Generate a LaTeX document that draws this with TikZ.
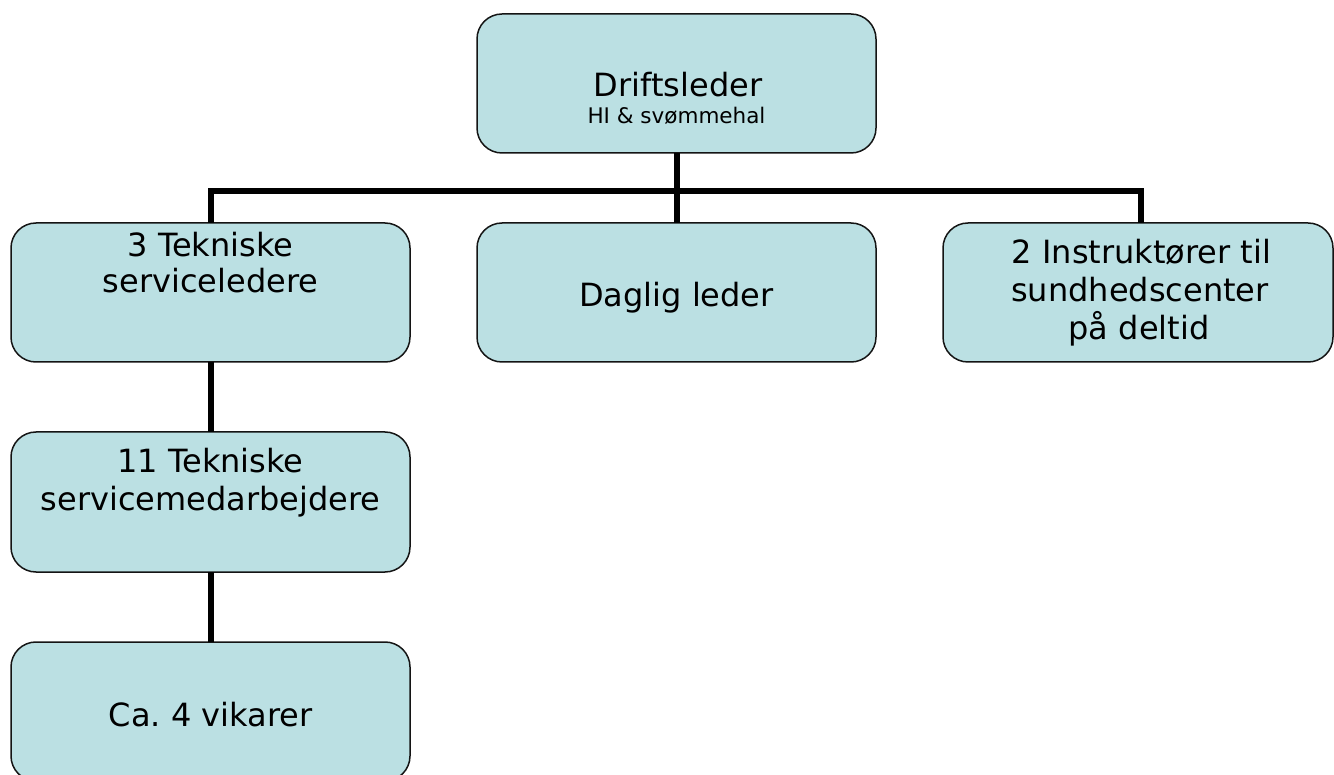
\documentclass[tikz,border=0pt]{standalone}
\usepackage{fontspec}
\setmainfont{DejaVu Sans}
\frenchspacing
\definecolor{boxfill}{RGB}{187,224,227}
\definecolor{boxline}{RGB}{20,20,20}
\tikzset{
  orgbox/.style={draw=boxline, line width=1.5pt, fill=boxfill, rounded corners=25pt,
    minimum width=399pt, minimum height=139pt, inner sep=0pt, outer sep=0pt},
  bigtxt/.style={anchor=base, inner sep=0pt, font=\fontsize{32}{38}\selectfont},
  smalltxt/.style={anchor=base, inner sep=0pt, font=\fontsize{21.5}{24}\selectfont},
  conn/.style={line width=6pt, draw=black, line join=miter}
}
\begin{document}
\begin{tikzpicture}[x=1pt,y=-1pt]
\useasboundingbox (0,0) rectangle (1334,775);
% boxes
\node[orgbox] (top) at (676.5,83.5) {};
\node[orgbox] (b1) at (210.5,292.5) {};
\node[orgbox] (b2) at (676.5,292.5) {};
\node[orgbox, minimum width=390pt] (b3) at (1138,292.5) {};
\node[orgbox, minimum height=140pt] (b4) at (210.5,502) {};
\node[orgbox] (b5) at (210.5,711.5) {};
% connectors
\coordinate (j) at (676.5,191);
\coordinate (b3top) at (1141,223);
\draw[conn] (top.south) -- (j);
\draw[conn] (b2.north) -- (j);
\draw[conn] (b1.north) |- (j) -| (b3top);
\draw[conn] (b1.south) -- (b4.north);
\draw[conn] (b4.south) -- (b5.north);
% texts
\node[bigtxt] (t0) at (678,97) {Driftsleder};
\node[smalltxt] (t0s) at (676.5,124) {HI \& svømmehal};
\node[bigtxt] (t1a) at (210.5,257) {3 Tekniske};
\node[bigtxt] (t1b) at (210.5,293) {serviceledere};
\node[bigtxt] (t2) at (676.5,307) {Daglig leder};
\node[bigtxt] (t3a) at (1141.5,264) {2 Instruktører til};
\node[bigtxt] (t3b) at (1140,302) {sundhedscenter};
\node[bigtxt] (t3c) at (1139,340) {på deltid};
\node[bigtxt] (t4a) at (210.5,473) {11 Tekniske};
\node[bigtxt] (t4b) at (210.5,511) {servicemedarbejdere};
\node[bigtxt] (t5) at (210.5,726) {Ca. 4 vikarer};
\end{tikzpicture}
\end{document}
